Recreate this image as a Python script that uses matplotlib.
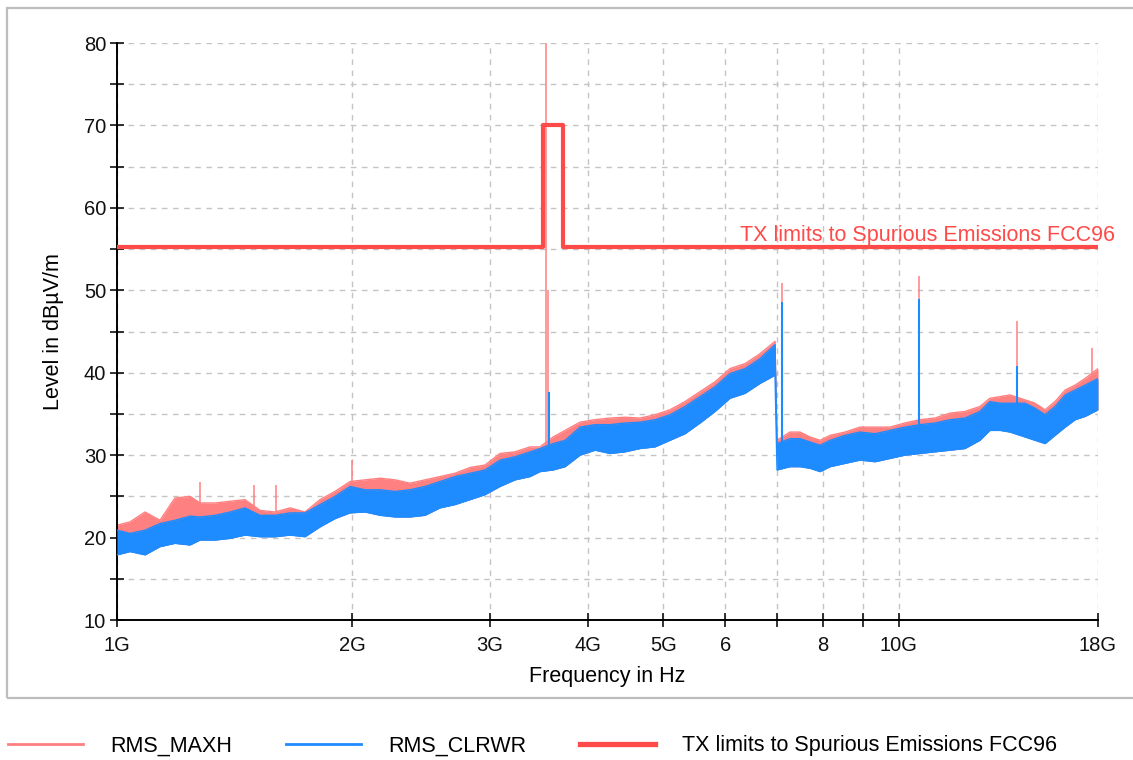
import matplotlib
matplotlib.use("Agg")
import matplotlib.pyplot as plt
import numpy as np
from matplotlib.patches import Rectangle
from matplotlib.ticker import NullLocator
from matplotlib.transforms import blended_transform_factory

freq_ghz = [1.000, 1.039, 1.086, 1.135, 1.186, 1.240, 1.277, 1.335, 1.395, 1.458,
            1.524, 1.593, 1.665, 1.740, 1.819, 1.901, 1.987, 2.077, 2.171, 2.269,
            2.371, 2.478, 2.590, 2.707, 2.829, 2.957, 3.091, 3.230, 3.377, 3.477,
            3.614, 3.744, 3.913, 4.089, 4.274, 4.467, 4.669, 4.880, 5.100, 5.331,
            5.572, 5.824, 6.087, 6.362, 6.649, 6.950, 6.991, 7.264, 7.482, 7.706,
            7.936, 8.176, 8.543, 8.928, 9.331, 9.752, 10.19, 10.65, 11.13, 11.64,
            12.16, 12.71, 13.09, 13.49, 13.89, 14.52, 14.95, 15.40, 15.86, 16.34,
            16.83, 17.33, 18.00]

maxh_level = [21.5, 21.9, 23.1, 22.1, 24.8, 25.0, 24.2, 24.2, 24.4, 24.6,
              23.3, 23.1, 23.6, 23.1, 24.6, 25.6, 26.8, 27.0, 27.2, 27.0,
              26.6, 27.0, 27.4, 27.8, 28.5, 28.8, 30.2, 30.4, 31.0, 31.0,
              32.2, 33.0, 34.0, 34.3, 34.5, 34.6, 34.5, 34.9, 35.5, 36.5,
              37.7, 38.9, 40.5, 41.1, 42.3, 43.8, 31.8, 32.8, 32.8, 32.2,
              31.8, 32.4, 32.8, 33.4, 33.4, 33.4, 33.9, 34.3, 34.5, 35.1,
              35.3, 35.9, 36.9, 37.1, 37.3, 36.7, 36.3, 35.5, 36.5, 37.9,
              38.5, 39.3, 40.5]

clrwr_high = [20.9, 20.5, 20.9, 21.7, 22.1, 22.6, 22.5, 22.7, 23.1, 23.6,
              22.7, 22.7, 23.0, 23.0, 24.0, 25.0, 26.2, 25.8, 25.8, 25.6,
              25.8, 26.2, 26.8, 27.4, 27.8, 28.2, 29.4, 29.8, 30.4, 30.8,
              31.4, 31.8, 33.4, 33.7, 33.7, 33.9, 34.0, 34.3, 34.9, 35.9,
              37.1, 38.3, 39.9, 40.5, 41.7, 43.4, 31.4, 32.0, 32.0, 31.6,
              31.2, 31.8, 32.4, 32.8, 32.6, 33.0, 33.4, 33.7, 33.9, 34.3,
              34.5, 35.3, 36.5, 36.3, 36.3, 36.3, 35.7, 34.9, 35.9, 37.3,
              37.9, 38.5, 39.3]

clrwr_low = [17.9, 18.3, 17.9, 18.9, 19.3, 19.1, 19.7, 19.7, 19.9, 20.3,
             20.1, 20.1, 20.3, 20.1, 21.3, 22.3, 23.0, 23.1, 22.7, 22.5,
             22.5, 22.7, 23.6, 24.0, 24.6, 25.2, 26.2, 27.0, 27.4, 28.0,
             28.2, 28.6, 30.0, 30.6, 30.2, 30.4, 30.8, 31.0, 31.8, 32.6,
             33.9, 35.3, 36.9, 37.5, 38.7, 39.7, 28.2, 28.6, 28.6, 28.4,
             28.0, 28.6, 29.0, 29.4, 29.2, 29.6, 30.0, 30.2, 30.4, 30.6,
             30.8, 31.8, 33.0, 33.0, 32.8, 32.2, 31.8, 31.4, 32.4, 33.4,
             34.3, 34.7, 35.5]

# narrow peaks
maxh_peak_freq = [1.277, 1.497, 1.596, 1.997, 3.54, 3.56, 7.09, 10.63, 14.17, 17.70]
maxh_peak_level = [26.8, 26.4, 26.4, 29.4, 81.0, 50.0, 50.9, 51.7, 46.3, 43.0]
clrwr_peak_freq = [3.57, 7.09, 10.63, 14.17]
clrwr_peak_level = [37.7, 48.6, 48.9, 40.8]

# limit line (step)
limit_freq = [1.0, 3.51, 3.72, 18.0]
limit_level = [55.2, 70.05, 55.2, 55.2]

xtick_vals = [1, 2, 3, 4, 5, 6, 7, 8, 9, 10, 18]
xtick_labels = ["1G", "2G", "3G", "4G", "5G", "6", "", "8", "", "10G", "18G"]
ytick_vals = [10, 15, 20, 25, 30, 35, 40, 45, 50, 55, 60, 65, 70, 75, 80]
ytick_labels = ["10", "", "20", "", "30", "", "40", "", "50", "", "60", "", "70", "", "80"]

RED = "#ff8080"
BLUE = "#1e8cff"
LIMIT = "#ff4a4a"

plt.rcParams["font.family"] = ["Liberation Sans", "DejaVu Sans"]

W, H = 1133, 760
fig = plt.figure(figsize=(W / 100, H / 100), dpi=100)
fig.patches.append(Rectangle((7 / W, 1 - 698 / H), 1.2, 690 / H, transform=fig.transFigure,
                             fill=False, edgecolor="#bdbdbd", lw=1.6))
ax = fig.add_axes([117 / W, 1 - 620 / H, 981 / W, 577 / H])

f = np.array(freq_ghz)
ax.fill_between(f, clrwr_low, maxh_level, color=RED, lw=0, zorder=2)
l_maxh, = ax.plot(f, maxh_level, color=RED, lw=1.0, zorder=2, label="RMS_MAXH")
ax.vlines(maxh_peak_freq, np.interp(maxh_peak_freq, f, clrwr_low), maxh_peak_level,
          color=RED, lw=1.1, zorder=2)
ax.fill_between(f, clrwr_low, clrwr_high, color=BLUE, lw=0, zorder=3)
l_clrwr, = ax.plot(f, clrwr_high, color=BLUE, lw=1.0, zorder=3, label="RMS_CLRWR")
ax.plot(f, clrwr_low, color=BLUE, lw=1.0, zorder=3)
ax.vlines(clrwr_peak_freq, np.interp(clrwr_peak_freq, f, clrwr_low), clrwr_peak_level,
          color=BLUE, lw=1.5, zorder=3)
l_lim, = ax.plot(limit_freq, limit_level, drawstyle="steps-post", color=LIMIT, lw=3.0,
                 zorder=4, label="TX limits to Spurious Emissions FCC96")

trans = blended_transform_factory(ax.transAxes, ax.transData)
ax.text(1.017, 56.0, "TX limits to Spurious Emissions FCC96", transform=trans,
        ha="right", va="baseline", color=LIMIT, fontsize=15.5, zorder=5)

ax.set_xscale("log")
ax.set_xlim(1, 18)
ax.set_ylim(10, 80)
ax.set_xticks(xtick_vals)
ax.set_xticklabels(xtick_labels)
ax.xaxis.set_minor_locator(NullLocator())
ax.set_yticks(ytick_vals)
ax.set_yticklabels(ytick_labels)
ax.tick_params(direction="inout", length=9.5, width=1.2, labelsize=14.5,
               colors="#111111")
ax.tick_params(axis="y", pad=3)
ax.tick_params(axis="x", pad=7)

ax.set_axisbelow(True)
ax.grid(True, color="#c4c4c4", linestyle=(0, (4, 4)), lw=1.0)
for s in ("top", "right"):
    ax.spines[s].set_visible(False)
for s in ("left", "bottom"):
    ax.spines[s].set_linewidth(1.4)

ax.set_xlabel("Frequency in Hz", fontsize=15.5, labelpad=8)
ax.set_ylabel("Level in dBµV/m", fontsize=15.5, labelpad=14)

leg = fig.legend([l_maxh, l_clrwr, l_lim], [l.get_label() for l in (l_maxh, l_clrwr, l_lim)],
                 loc="center left", bbox_to_anchor=(8 / W, 1 - 746 / H), ncol=3,
                 frameon=False, fontsize=15.5, handlelength=3.5, handletextpad=1.25,
                 columnspacing=2.5, borderpad=0, borderaxespad=0)
for line, lw in zip(leg.get_lines(), (2.0, 2.0, 3.8)):
    line.set_linewidth(lw)

fig.savefig("out.png", dpi=100)
